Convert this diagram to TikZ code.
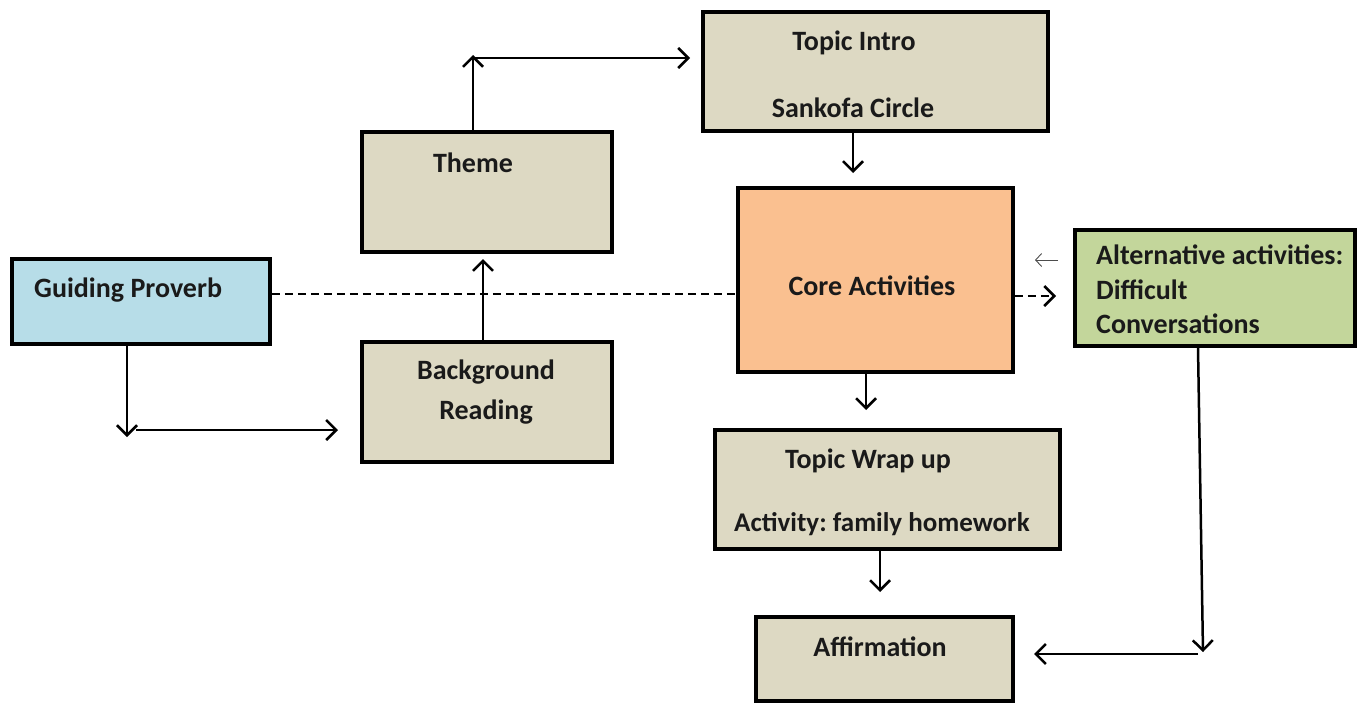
\documentclass[tikz,border=0pt]{standalone}
\usepackage{fontspec}
\setmainfont{Carlito}
\frenchspacing
\usetikzlibrary{arrows.meta}
\definecolor{boxbeige}{HTML}{DDD9C3}
\definecolor{boxblue}{HTML}{B7DDE8}
\definecolor{boxpeach}{HTML}{FAC090}
\definecolor{boxgreen}{HTML}{C3D69B}
\definecolor{txt}{HTML}{1A1A1A}
\tikzset{
  box/.style={draw=black, line width=3.5pt, fill=boxbeige, inner sep=0pt},
  lbl/.style={font=\fontsize{28}{32}\selectfont\bfseries, text=txt, inner sep=0pt},
  arr/.style={line width=2.5pt, -{Straight Barb[length=10pt,width=20pt,line width=2.5pt]}},
  dsh/.style={line width=2.5pt, dash pattern=on 8pt off 5pt},
  thinarr/.style={line width=0.9pt, draw=black!70, -{Straight Barb[length=6pt,width=13pt,line width=0.9pt]}}
}
\begin{document}
\begin{tikzpicture}[x=1pt,y=-1pt]
\useasboundingbox[fill=white] (0,0) rectangle (1357,702);
% boxes
\node[box, minimum width=345pt, minimum height=119pt] (intro) at (875.5,71.5) {};
\node[box, minimum width=250pt, minimum height=120pt] (theme) at (487,192) {};
\node[box, fill=boxblue, minimum width=258pt, minimum height=85pt] (gp) at (141,301.5) {};
\node[box, fill=boxpeach, minimum width=275pt, minimum height=184pt] (core) at (875.5,280) {};
\node[box, fill=boxgreen, minimum width=280pt, minimum height=116pt] (alt) at (1215,288) {};
\node[box, minimum width=250pt, minimum height=120pt] (bg) at (487,402) {};
\node[box, minimum width=345pt, minimum height=119pt] (wrap) at (887.5,489.5) {};
\node[box, minimum width=257pt, minimum height=84pt] (aff) at (884.5,659) {};
% texts
\node[lbl] (t1) at (854,43) {Topic Intro};
\node[lbl] (t2) at (853,108) {Sankofa Circle};
\node[lbl] (t3) at (473,163) {Theme};
\node[lbl, anchor=west] (t4) at (34,290) {Guiding Proverb};
\node[lbl] (t5) at (872,286) {Core Activities};
\node[lbl, anchor=west] (t6) at (1096,255) {Alternative activities:};
\node[lbl, anchor=west] (t7) at (1096,290) {Difficult};
\node[lbl, anchor=west] (t8) at (1096,324) {Conversations};
\node[lbl] (t9) at (486,372) {Background};
\node[lbl] (t10) at (486,412) {Reading};
\node[lbl] (t11) at (868,461) {Topic Wrap up};
\node[lbl, font=\fontsize{27}{32}\selectfont\bfseries] (t12) at (882,524) {Activity: family homework};
\node[lbl] (t13) at (880,647) {Affirmation};
% connector coordinates
\coordinate (gpdown) at (127,437);
\coordinate (hstart) at (136,430);
\coordinate (hend) at (338,430);
\coordinate (themein) at (483,259);
\coordinate (themeup) at (473,55);
\coordinate (tstart) at (472,58);
\coordinate (tend) at (690,58);
\coordinate (coretop) at (853,173);
\coordinate (dashend) at (1056,296);
\coordinate (thinstart) at (1058,260);
\coordinate (thinend) at (1035,260);
\coordinate (wraptop) at (866,410);
\coordinate (afftop) at (880,592);
\coordinate (altdown) at (1203,652);
\coordinate (lstart) at (1198,654);
\coordinate (lend) at (1034,654);
% connectors
\draw[arr] (127,0 |- gp.south) -- (gpdown);
\draw[arr] (hstart) -- (hend);
\draw[arr] (483,0 |- bg.north) -- (themein);
\draw[arr] (473,0 |- theme.north) -- (themeup);
\draw[arr] (tstart) -- (tend);
\draw[arr] (853,0 |- intro.south) -- (coretop);
\draw[dsh] (gp.east |- 0,294) -- (core.west |- 0,294);
\draw[dsh, -{Straight Barb[length=10pt,width=20pt,line width=2.5pt]}] (core.east |- 0,296) -- (dashend);
\draw[thinarr] (thinstart) -- (thinend);
\draw[arr] (866,0 |- core.south) -- (wraptop);
\draw[arr] (880,0 |- wrap.south) -- (afftop);
\draw[arr] (1198,0 |- alt.south) -- (altdown);
\draw[arr] (lstart) -- (lend);
\end{tikzpicture}
\end{document}
